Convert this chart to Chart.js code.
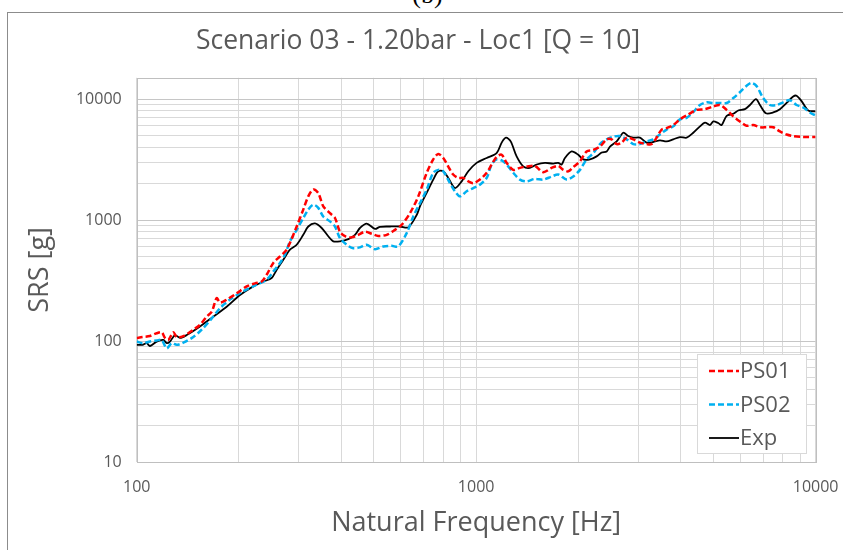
<!DOCTYPE html>
<html>
<head>
<meta charset="utf-8">
<script src="https://cdn.jsdelivr.net/npm/chart.js@4.4.1/dist/chart.umd.min.js"></script>
<style>
  html, body { margin: 0; padding: 0; background: #fff; overflow: hidden; }
  #wrap { position: relative; width: 843px; height: 550px; }
  #frame { position: absolute; left: 7px; top: 12px; width: 900px; height: 600px; border: 1px solid #8c8c8c; }
  #tag { position: absolute; left: 0; width: 855px; top: -20px; text-align: center; font: 26px "Liberation Serif", serif; color: #000; }
  canvas { position: absolute; left: 0; top: 0; }
</style>
</head>
<body>
<div id="wrap">
  <div id="frame"></div>
  <div id="tag">(b)</div>
  <canvas id="chart" width="843" height="550"></canvas>
</div>
<script>
// values (frequency in Hz, SRS in g)
const ps01Freq = [100, 104, 109.4, 114.5, 118.5, 121.2, 123.9, 128.2, 131.2, 137.2, 146.8, 153.6, 160.8, 166.4, 172, 176, 184.1, 197, 210.9, 223.1, 233.5, 241.5, 252.6, 264.3, 276.6, 296, 309.5, 320.2, 331.3, 342.7, 354.5, 371, 383.8, 397, 410.8, 429.9, 449.5, 470.4, 492.3, 514.8, 545.1, 576.7, 603.5, 638.3, 675.3, 714.8, 747.4, 773.2, 800, 827.7, 855.8, 885.7, 916.2, 948, 980.6, 1026, 1074, 1111, 1149, 1189, 1230, 1286, 1346, 1408, 1490, 1576, 1669, 1745, 1806, 1868, 1932, 2022, 2116, 2213, 2316, 2424, 2507, 2594, 2683, 2775, 2902, 3038, 3178, 3288, 3402, 3519, 3640, 3807, 3985, 4215, 4461, 4721, 4995, 5226, 5470, 5720, 5984, 6264, 6550, 6856, 7175, 7502, 7850, 8215, 8590, 9194, 10000];
const ps01Srs = [106, 108, 110, 116, 118, 106, 102, 118, 108, 110, 124, 136, 159, 175, 226, 208, 220, 248, 283, 300, 310, 353, 442, 500, 570, 885, 1220, 1570, 1790, 1670, 1300, 1140, 1040, 800, 735, 720, 755, 800, 770, 740, 755, 830, 915, 1140, 1570, 2450, 3170, 3520, 3260, 2770, 2380, 2230, 2230, 2090, 2020, 2160, 2460, 2880, 3330, 3470, 2970, 2600, 2700, 2770, 2800, 2490, 2700, 2800, 2600, 2530, 2740, 3060, 3690, 3800, 4050, 4650, 4650, 4250, 4370, 4800, 4650, 4370, 4250, 4250, 4800, 5600, 5760, 6100, 6800, 7460, 8140, 8260, 8680, 8940, 8140, 7200, 6540, 6020, 6100, 5850, 5850, 5850, 5400, 5100, 4950, 4860, 4860];

const ps02Freq = [100, 104, 109.4, 114.5, 118.5, 122.6, 126.8, 131.2, 137.2, 146.8, 155.4, 166.4, 176, 188.3, 206, 225.7, 241.5, 252.6, 264.3, 273.4, 282.8, 296, 309.5, 320.2, 331.3, 342.7, 354.5, 371, 383.8, 397, 415.6, 434.5, 454.7, 475.9, 503.5, 532.6, 563.8, 589.5, 624.2, 652.8, 691.2, 714.8, 747.4, 773.2, 800, 837.2, 866.3, 896.2, 937.6, 980.6, 1026, 1074, 1111, 1149, 1189, 1230, 1286, 1346, 1408, 1490, 1576, 1669, 1745, 1848, 1932, 2022, 2116, 2213, 2316, 2424, 2534, 2653, 2775, 2902, 3038, 3178, 3323, 3479, 3640, 3807, 3985, 4169, 4360, 4563, 4775, 4995, 5226, 5470, 5720, 5984, 6264, 6479, 6702, 7010, 7335, 7675, 8028, 8402, 8790, 9194, 9621, 10000];
const ps02Srs = [99, 96, 99, 101, 102, 87, 96, 93, 97, 108, 124, 154, 187, 220, 258, 292, 322, 375, 442, 520, 667, 830, 1040, 1220, 1340, 1260, 1070, 975, 885, 710, 625, 585, 595, 625, 575, 605, 612, 605, 780, 1070, 1470, 1780, 2460, 2600, 2530, 2020, 1730, 1570, 1730, 1840, 1960, 2230, 2880, 3170, 3110, 2880, 2460, 2160, 2090, 2190, 2160, 2290, 2380, 2160, 2290, 2600, 3170, 3570, 4250, 4650, 4890, 4950, 4650, 4250, 4250, 4470, 4650, 5100, 5600, 5950, 6800, 7000, 7800, 8940, 9400, 9290, 9290, 9290, 10200, 11400, 12900, 13600, 12800, 10200, 8940, 8940, 9400, 9800, 8940, 8520, 7760, 7300];

const expFreq = [100, 104, 107, 109.4, 114.5, 119.8, 122.6, 125.3, 129.7, 134.1, 140.4, 153.6, 168.1, 184.1, 201.5, 220.5, 236, 249.8, 258.5, 270.3, 282.8, 296, 309.5, 320.2, 335.2, 350.7, 366.7, 379.4, 397, 420.1, 439.5, 454.7, 475.9, 503.5, 520.8, 557.5, 596.6, 631, 667.9, 683, 714.8, 747.4, 773.2, 800, 827.7, 866.3, 906.6, 948, 1003, 1074, 1149, 1189, 1224, 1264, 1316, 1376, 1440, 1508, 1595, 1687, 1745, 1786, 1826, 1911, 1998, 2068, 2164, 2264, 2343, 2424, 2479, 2594, 2713, 2805, 2902, 3038, 3178, 3323, 3479, 3640, 3807, 3985, 4169, 4360, 4563, 4721, 4884, 4995, 5167, 5287, 5470, 5720, 5916, 6192, 6405, 6673, 6856, 7140, 7502, 7850, 8215, 8590, 8790, 9094, 9511, 10000];
const expSrs = [93, 93, 96, 91, 99, 102, 96, 99, 112, 106, 112, 132, 159, 192, 240, 283, 310, 332, 389, 470, 570, 625, 755, 885, 940, 860, 735, 667, 667, 695, 755, 860, 935, 845, 880, 885, 885, 870, 1100, 1298, 1676, 2160, 2530, 2530, 2230, 1840, 2090, 2530, 2970, 3260, 3570, 4370, 4800, 4470, 3360, 2780, 2700, 2880, 2970, 2930, 2970, 2880, 3260, 3690, 3470, 3170, 3170, 3360, 3620, 3690, 4050, 4470, 5270, 4950, 4800, 4800, 4370, 4420, 4560, 4470, 4650, 4850, 4800, 5270, 5950, 6400, 6100, 6540, 6340, 6100, 7280, 7560, 8050, 8260, 8940, 10000, 8940, 7640, 7760, 8260, 9290, 10500, 10660, 9620, 8050, 7930];

const seriesNames = ["PS01", "PS02", "Exp"];
const xTickValues = [100, 200, 300, 400, 500, 600, 700, 800, 900, 1000, 2000, 3000, 4000, 5000, 6000, 7000, 8000, 9000, 10000];
const yTickValues = [10, 20, 30, 40, 50, 60, 70, 80, 90, 100, 200, 300, 400, 500, 600, 700, 800, 900, 1000, 2000, 3000, 4000, 5000, 6000, 7000, 8000, 9000, 10000];
const labelledTicks = [10, 100, 1000, 10000];

const FONT = "'Open Sans', 'Noto Sans', sans-serif";
const TXT = "#595959";

function pairs(xs, ys) {
    return xs.map((x, i) => ({ x: x, y: ys[i] }));
}

// plot area outline (Excel draws a thin frame round the plot)
const plotFrame = {
    id: "plotFrame",
    beforeDatasetsDraw(chart) {
        const a = chart.chartArea;
        const ctx = chart.ctx;
        ctx.save();
        ctx.strokeStyle = "#bfbfbf";
        ctx.lineWidth = 1;
        ctx.strokeRect(Math.round(a.left) + 0.5, Math.round(a.top) + 0.5, Math.round(a.right - a.left), Math.round(a.bottom - a.top));
        ctx.restore();
    }
};

// legend box sitting in the lower right corner of the plot
const insideLegend = {
    id: "insideLegend",
    afterDatasetsDraw(chart) {
        const a = chart.chartArea;
        const ctx = chart.ctx;
        const w = 109, h = 99;
        const x0 = Math.round(a.right - 10 - w), y0 = Math.round(a.bottom - 9 - h);
        ctx.save();
        ctx.fillStyle = "#fff";
        ctx.fillRect(x0, y0, w, h);
        ctx.strokeStyle = "#d9d9d9";
        ctx.lineWidth = 1;
        ctx.strokeRect(x0 + 0.5, y0 + 0.5, w, h);
        chart.data.datasets.forEach((ds, i) => {
            const yy = y0 + 17 + i * 33.5;
            ctx.beginPath();
            ctx.setLineDash(ds.borderDash || []);
            ctx.strokeStyle = ds.borderColor;
            ctx.lineWidth = ds.borderWidth;
            ctx.moveTo(x0 + 12, yy);
            ctx.lineTo(x0 + 42, yy);
            ctx.stroke();
            ctx.setLineDash([]);
            ctx.fillStyle = TXT;
            ctx.font = "22px " + FONT;
            ctx.textBaseline = "middle";
            ctx.textAlign = "left";
            ctx.fillText(ds.label, x0 + 43, yy + 1);
        });
        ctx.restore();
    }
};

new Chart(document.getElementById("chart"), {
    type: "line",
    data: {
        datasets: [
            {
                label: seriesNames[0],
                data: pairs(ps01Freq, ps01Srs),
                borderColor: "#ff0000",
                borderWidth: 2.5,
                borderDash: [6, 3]
            },
            {
                label: seriesNames[1],
                data: pairs(ps02Freq, ps02Srs),
                borderColor: "#00b0f0",
                borderWidth: 2.5,
                borderDash: [6, 3]
            },
            {
                label: seriesNames[2],
                data: pairs(expFreq, expSrs),
                borderColor: "#000000",
                borderWidth: 1.8
            }
        ]
    },
    options: {
        responsive: false,
        animation: false,
        events: [],
        elements: {
            point: { radius: 0 },
            line: { tension: 0.3, fill: false }
        },
        layout: { padding: { left: 0, right: 7, top: 0, bottom: 0 } },
        plugins: {
            legend: { display: false },
            tooltip: { enabled: false },
            title: {
                display: true,
                text: "Scenario 03 - 1.20bar - Loc1 [Q = 10]",
                color: TXT,
                font: { family: FONT, size: 26.5, weight: "normal" },
                padding: { top: 26, bottom: 20 }
            }
        },
        scales: {
            x: {
                type: "logarithmic",
                min: 100,
                max: 10000,
                afterBuildTicks(scale) {
                    scale.ticks = xTickValues.map(v => ({ value: v }));
                },
                afterFit(scale) {
                    scale.height = 88;
                    scale.paddingLeft = 0;
                    scale.paddingRight = 27.4;
                },
                grid: {
                    color: "#d9d9d9",
                    drawTicks: false
                },
                border: { display: false },
                ticks: {
                    autoSkip: false,
                    maxRotation: 0,
                    padding: 16,
                    color: TXT,
                    font: { family: FONT, size: 16 },
                    callback: v => labelledTicks.includes(v) ? String(v) : ""
                },
                title: {
                    display: true,
                    text: "Natural Frequency [Hz]",
                    color: TXT,
                    font: { family: FONT, size: 27 },
                    padding: { top: 0, bottom: 10 }
                }
            },
            y: {
                type: "logarithmic",
                min: 10,
                max: 15000,
                afterBuildTicks(scale) {
                    scale.ticks = yTickValues.map(v => ({ value: v }));
                },
                afterFit(scale) {
                    scale.width = 136.7;
                    scale.paddingTop = 0;
                    scale.paddingBottom = 0;
                },
                grid: {
                    color: ctx => labelledTicks.includes(ctx.tick && ctx.tick.value) ? "#c6c6c6" : "#d9d9d9",
                    drawTicks: false
                },
                border: { display: false },
                ticks: {
                    autoSkip: false,
                    padding: 15,
                    color: TXT,
                    font: { family: FONT, size: 16 },
                    callback: v => labelledTicks.includes(v) ? String(v) : ""
                },
                title: {
                    display: true,
                    text: "SRS [g]",
                    color: TXT,
                    font: { family: FONT, size: 27 },
                    padding: { top: 24, bottom: 0 }
                }
            }
        }
    },
    plugins: [plotFrame, insideLegend]
});
</script>
</body>
</html>
